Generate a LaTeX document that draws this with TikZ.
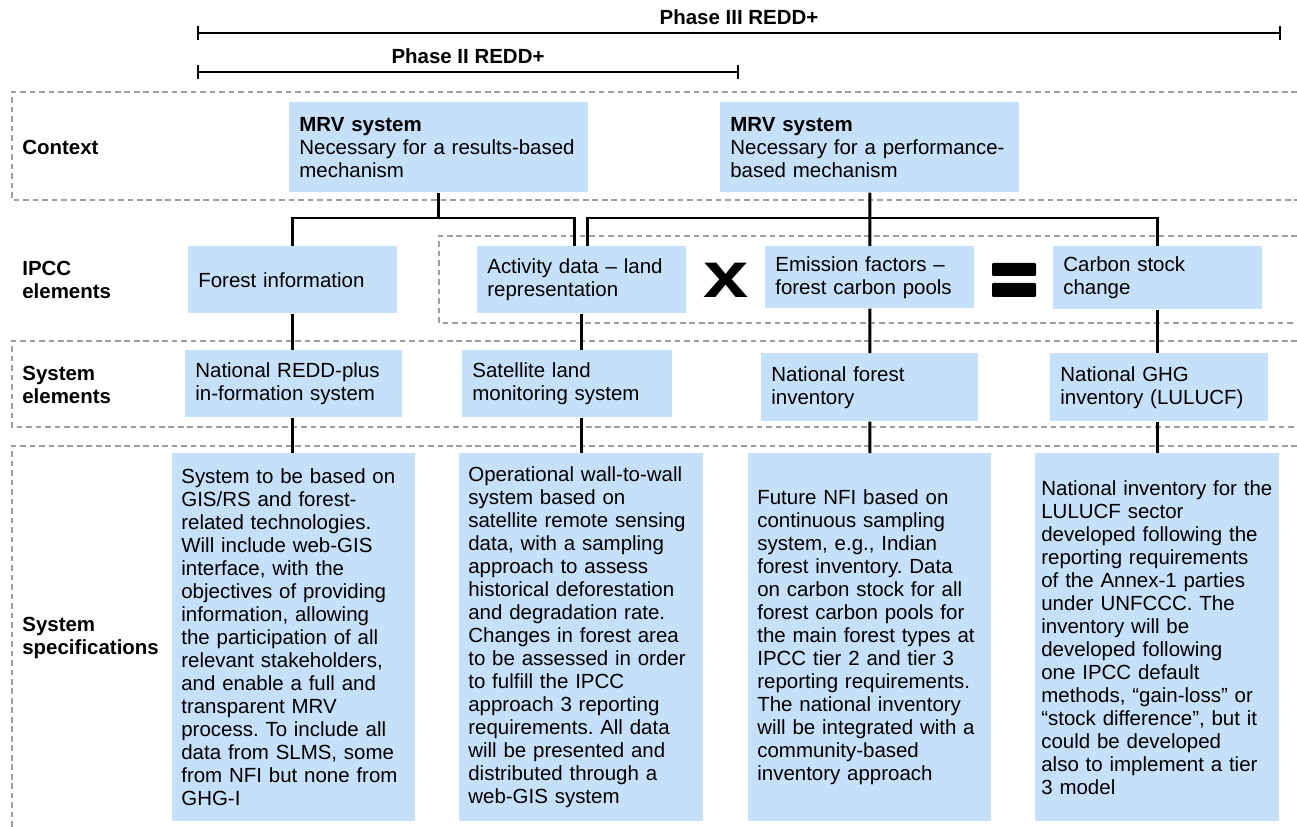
\documentclass[tikz,border=0pt]{standalone}
\usepackage{fontspec}
\setmainfont{Liberation Sans}
\usetikzlibrary{arrows.meta,calc}

\definecolor{boxblue}{RGB}{198,224,250}
\definecolor{framegray}{RGB}{158,158,158}
\newcommand{\bodyfont}{\fontsize{11.65}{13.1}\selectfont\frenchspacing}

\begin{document}
\begin{tikzpicture}[x=0.02cm, y=-0.02cm,
  box/.style={fill=boxblue, anchor=north west, align=left, inner xsep=0.2cm, inner ysep=0pt, font=\bodyfont, text width=#1},
  specbox/.style={box=#1, inner xsep=0.18cm, minimum height=7.36cm},
  rowlabel/.style={anchor=west, align=left, inner sep=0pt, font=\bodyfont\bfseries},
  rowframe/.style={draw=framegray, line width=0.6pt, dash pattern=on 3.2pt off 2.2pt},
  link/.style={line width=1.7pt},
  phaseline/.style={line width=1.6pt, arrows={Bar[width=8pt,line width=1.1pt]-Bar[width=8pt,line width=1.1pt]}},
  phaselabel/.style={inner sep=0pt, font=\bodyfont\bfseries}]
  \useasboundingbox (0,0) rectangle (1297,827);

  % Draw the dashed row frames
  \draw[rowframe] (1297,92) -| (12,200) -- (1297,200);
  \draw[rowframe] (1297,236) -| (439,323) -- (1297,323);
  \draw[rowframe] (1297,341) -| (12,427) -- (1297,427);
  \draw[rowframe] (1297,446) -| (12,827);

  % Draw the phase ranges
  \coordinate (ph3start) at (197,33);
  \coordinate (ph3end) at (1281,33);
  \coordinate (ph2start) at (197,72);
  \coordinate (ph2end) at (739,72);
  \draw[phaseline] (ph3start) -- (ph3end) node[phaselabel, midway, above=4.2pt] (ph3label) {Phase III REDD+};
  \draw[phaseline] (ph2start) -- (ph2end) node[phaselabel, midway, above=4.2pt] (ph2label) {Phase II REDD+};

  % Label the rows
  \node[rowlabel] (ctx) at (22,147) {Context};
  \node[rowlabel] (ipcc) at (22,280) {IPCC\\elements};
  \node[rowlabel] (syselem) at (22,385) {System\\elements};
  \node[rowlabel] (sysspec) at (22,638) {System\\specifications};

  % Context boxes
  \node[box=5.58cm, minimum height=1.8cm] (mrv1) at (289,102) {\textbf{MRV system}\\Necessary for a results-based\\mechanism};
  \node[box=5.58cm, minimum height=1.8cm] (mrv2) at (720,102) {\textbf{MRV system}\\Necessary for a performance-\\based mechanism};

  % IPCC element boxes
  \node[box=3.78cm, minimum height=1.34cm] (forest) at (188,246) {Forest information};
  \node[box=3.78cm, minimum height=1.34cm] (activity) at (477,246) {Activity data – land\\representation};
  \node[box=3.78cm, minimum height=1.24cm] (emission) at (765,246) {Emission factors –\\forest carbon pools};
  \node[box=3.78cm, minimum height=1.26cm] (carbon) at (1053,246) {Carbon stock\\change};

  % Draw the times and equals signs
  \node[inner sep=0pt, font=\fontsize{37}{37}\selectfont\bfseries] (times) at (726,280) {\scalebox{1.25}[1]{x}};
  \fill[rounded corners=0.6pt] (992,263) rectangle (1036,276);
  \fill[rounded corners=0.6pt] (992,283) rectangle (1036,297);

  % System element boxes
  \node[box=3.94cm, minimum height=1.34cm] (redd) at (185,350) {National REDD-plus\\in-formation system};
  \node[box=3.8cm, minimum height=1.34cm] (satellite) at (462,350) {Satellite land\\monitoring system};
  \node[box=3.94cm, minimum height=1.36cm] (nfi) at (761,353) {National forest\\inventory};
  \node[box=3.96cm, minimum height=1.36cm] (ghg) at (1050,353) {National GHG\\inventory (LULUCF)};

  % System specification boxes
  \node[specbox=4.5cm] (spec1) at (172,453) {System to be based on\\GIS/RS and forest-\\related technologies.\\Will include web-GIS\\interface, with the\\objectives of providing\\information, allowing\\the participation of all\\relevant stakeholders,\\and enable a full and\\transparent MRV\\process. To include all\\data from SLMS, some\\from NFI but none from\\GHG-I};
  \node[specbox=4.52cm] (spec2) at (459,453) {Operational wall-to-wall\\system based on\\satellite remote sensing\\data, with a sampling\\approach to assess\\historical deforestation\\and degradation rate.\\Changes in forest area\\to be assessed in order\\to fulfill the IPCC\\approach 3 reporting\\requirements. All data\\will be presented and\\distributed through a\\web-GIS system};
  \node[specbox=4.5cm] (spec3) at (748,453) {Future NFI based on\\continuous sampling\\system, e.g., Indian\\forest inventory. Data\\on carbon stock for all\\forest carbon pools for\\the main forest types at\\IPCC tier 2 and tier 3\\reporting requirements.\\The national inventory\\will be integrated with a\\community-based\\inventory approach};
  \node[specbox=4.64cm, inner xsep=0.12cm] (spec4) at (1035,453) {National inventory for the\\LULUCF sector\\developed following the\\reporting requirements\\of the Annex-1 parties\\under UNFCCC. The\\inventory will be\\developed following\\one IPCC default\\methods, “gain-loss” or\\“stock difference”, but it\\could be developed\\also to implement a tier\\3 model};

  % Draw the links from the context boxes
  \coordinate (bus) at (0,218);
  \coordinate (actL) at ($(activity.north)+(-7,0)$);
  \coordinate (actR) at ($(activity.north)+(6,0)$);
  \draw[link] (mrv1.south) -- (mrv1.south |- bus);
  \draw[link] (forest.north) |- (bus -| actL) -- (actL);
  \draw[link] (actR) |- (bus -| carbon.north) -- (carbon.north);
  \draw[link] (mrv2.south) -- (emission.north);

  % Draw the column links
  \draw[link] (forest.south) -- (forest.south |- redd.north);
  \draw[link] (forest.south |- redd.south) -- (forest.south |- spec1.north);
  \draw[link] (activity.south) -- (activity.south |- satellite.north);
  \draw[link] (activity.south |- satellite.south) -- (activity.south |- spec2.north);
  \draw[link] (emission.south) -- (nfi.north);
  \draw[link] (nfi.south) -- (spec3.north);
  \draw[link] (carbon.south) -- (carbon.south |- ghg.north);
  \draw[link] (carbon.south |- ghg.south) -- (carbon.south |- spec4.north);
\end{tikzpicture}
\end{document}
